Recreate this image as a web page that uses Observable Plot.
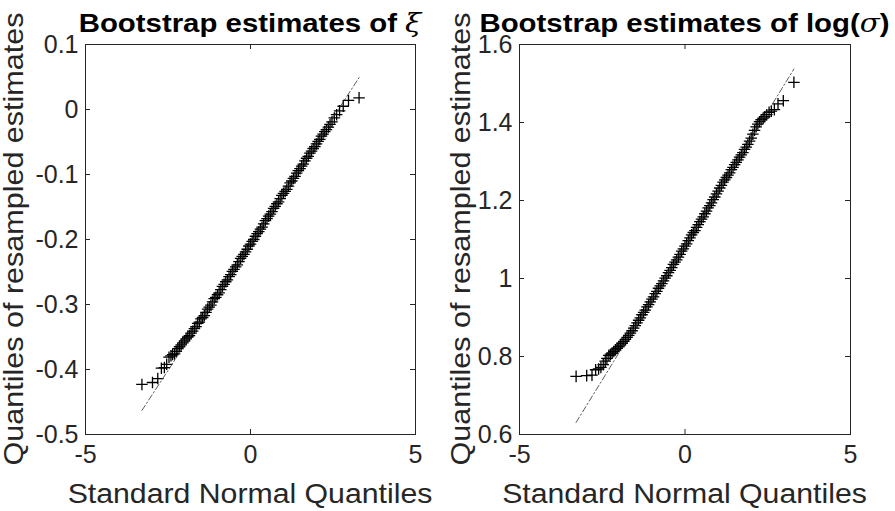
<!DOCTYPE html>
<html><head><meta charset="utf-8">
<script src="https://cdn.jsdelivr.net/npm/d3@7"></script>
<script src="https://cdn.jsdelivr.net/npm/@observablehq/plot@0.6"></script>
<style>
body{margin:0;background:#fff;}
#wrap{display:flex;width:895px;height:511px;overflow:hidden;}
#wrap svg{overflow:visible;display:block;}
</style></head><body><div id="wrap"></div>
<script>
// Theoretical standard normal quantiles (x positions of the plotted points)
const normalQuantiles = [
 -3.29, -2.97, -2.81, -2.70, -2.61, -2.54, -2.47, -2.41, -2.36,
 -2.30, -2.25, -2.20, -2.15, -2.10, -2.05, -2.00, -1.95, -1.90, -1.85,
 -1.80, -1.75, -1.70, -1.65, -1.60, -1.55, -1.50, -1.45, -1.40, -1.35,
 -1.30, -1.25, -1.20, -1.15, -1.10, -1.05, -1.00, -0.95, -0.90, -0.85,
 -0.80, -0.75, -0.70, -0.65, -0.60, -0.55, -0.50, -0.45, -0.40, -0.35,
 -0.30, -0.25, -0.20, -0.15, -0.10, -0.05, 0.00, 0.05, 0.10, 0.15,
 0.20, 0.25, 0.30, 0.35, 0.40, 0.45, 0.50, 0.55, 0.60, 0.65,
 0.70, 0.75, 0.80, 0.85, 0.90, 0.95, 1.00, 1.05, 1.10, 1.15,
 1.20, 1.25, 1.30, 1.35, 1.40, 1.45, 1.50, 1.55, 1.60, 1.65,
 1.70, 1.75, 1.80, 1.85, 1.90, 1.95, 2.00, 2.05, 2.10, 2.15,
 2.20, 2.25, 2.30,
 2.36, 2.41, 2.47, 2.54, 2.61, 2.70, 2.81, 2.97, 3.29
];
// Sorted bootstrap estimates of xi
const xiEstimates = [
 -0.423, -0.420, -0.414, -0.398, -0.397, -0.392, -0.381, -0.379, -0.377,
 -0.376, -0.372, -0.368, -0.365, -0.362, -0.359, -0.356, -0.353, -0.350, -0.348,
 -0.344, -0.341, -0.337, -0.334, -0.329, -0.327, -0.322, -0.320, -0.317, -0.312,
 -0.307, -0.304, -0.301, -0.296, -0.291, -0.289, -0.285, -0.282, -0.277, -0.272,
 -0.269, -0.265, -0.262, -0.257, -0.254, -0.249, -0.246, -0.242, -0.239, -0.234,
 -0.229, -0.226, -0.223, -0.219, -0.215, -0.210, -0.207, -0.203, -0.200, -0.195,
 -0.191, -0.188, -0.184, -0.181, -0.176, -0.171, -0.168, -0.164, -0.161, -0.157,
 -0.152, -0.149, -0.145, -0.142, -0.137, -0.132, -0.129, -0.126, -0.123, -0.118,
 -0.113, -0.110, -0.106, -0.103, -0.098, -0.094, -0.091, -0.087, -0.084, -0.079,
 -0.075, -0.072, -0.067, -0.064, -0.060, -0.057, -0.053, -0.049, -0.046, -0.041,
 -0.038, -0.034, -0.031,
 -0.027, -0.023, -0.019, -0.013, -0.008, -0.002, 0.005, 0.014, 0.018
];
// Sorted bootstrap estimates of log(sigma)
const logSigmaEstimates = [
 0.749, 0.751, 0.752, 0.766, 0.768, 0.772, 0.779, 0.788, 0.795,
 0.803, 0.806, 0.809, 0.813, 0.817, 0.821, 0.825, 0.829, 0.834, 0.839,
 0.844, 0.849, 0.854, 0.860, 0.866, 0.873, 0.879, 0.886, 0.893, 0.899,
 0.907, 0.913, 0.919, 0.927, 0.933, 0.940, 0.947, 0.953, 0.961, 0.967,
 0.975, 0.981, 0.987, 0.994, 1.001, 1.007, 1.015, 1.021, 1.028, 1.036,
 1.042, 1.048, 1.055, 1.062, 1.070, 1.076, 1.083, 1.089, 1.097, 1.104,
 1.112, 1.118, 1.123, 1.131, 1.138, 1.146, 1.152, 1.158, 1.166, 1.173,
 1.181, 1.187, 1.194, 1.202, 1.209, 1.217, 1.224, 1.232, 1.239, 1.247,
 1.253, 1.259, 1.265, 1.271, 1.279, 1.285, 1.292, 1.298, 1.304, 1.311,
 1.317, 1.323, 1.331, 1.337, 1.344, 1.352, 1.360, 1.370, 1.380, 1.389,
 1.396, 1.402, 1.407,
 1.411, 1.415, 1.420, 1.426, 1.429, 1.433, 1.448, 1.456, 1.503
];
// Reference (quartile) line end points
const fitQuantiles = [-3.29, 3.29];
const xiFitValues = [-0.463, 0.049];
const logSigmaFitValues = [0.631, 1.537];

// Axis ticks
const xTicks = [-5, 0, 5];
const xiTicks = [-0.5, -0.4, -0.3, -0.2, -0.1, 0, 0.1];
const logSigmaTicks = [0.6, 0.8, 1, 1.2, 1.4, 1.6];

const xLabel = "Standard Normal Quantiles";
const yLabel = "Quantiles of resampled estimates";

const ink = "#262626";
const H = 511, MT = 44, MB = 77;
const fmt = d => String(+(+d).toFixed(1));

function panel({width, marginLeft, marginRight, values, fitValues, yDomain, yTicks, titleParts}) {
  const data = normalQuantiles.map((q, i) => ({q, v: values[i]}));
  const fit = fitQuantiles.map((q, i) => ({q, v: fitValues[i]}));
  const frameH = H - MT - MB;
  const frameW = width - marginLeft - marginRight;
  const tl = 5;
  const svg = Plot.plot({
    width, height: H, marginLeft, marginRight, marginTop: MT, marginBottom: MB,
    style: {fontFamily: "'Liberation Sans', Arial, sans-serif", fontSize: "25px", color: ink, background: "white", overflow: "visible"},
    x: {domain: [-5, 5], ticks: xTicks, tickFormat: fmt, tickSize: 0, tickPadding: 11, label: null},
    y: {domain: yDomain, ticks: yTicks, tickFormat: fmt, tickSize: 0, tickPadding: 7, label: null},
    marks: [
      Plot.dot(data, {x: "q", y: "v", symbol: "plus", r: 3.8, stroke: "black", strokeWidth: 1.3}),
      Plot.line(fit, {x: "q", y: "v", stroke: "#333", strokeWidth: 0.8, strokeDasharray: "6,2.5,1.5,2.5"}),
      Plot.tickX(xTicks, {x: d => d, insetTop: frameH - tl, stroke: ink}),
      Plot.tickX(xTicks, {x: d => d, insetBottom: frameH - tl, stroke: ink}),
      Plot.tickY(yTicks, {y: d => d, insetRight: frameW - tl, stroke: ink}),
      Plot.tickY(yTicks, {y: d => d, insetLeft: frameW - tl, stroke: ink}),
      Plot.frame({stroke: ink, strokeWidth: 1})
    ]
  });
  const s = d3.select(svg);
  const cx = marginLeft + frameW / 2;
  const t = s.append("text")
    .attr("transform", `translate(${cx},32) scale(1.13,1)`)
    .attr("text-anchor", "middle").attr("font-weight", "bold")
    .attr("font-size", 26).attr("fill", "#000")
    .attr("font-family", "'Liberation Sans', Arial, sans-serif");
  titleParts.forEach(p => {
    const ts = t.append("tspan").text(p.text);
    if (p.math) ts.attr("font-family", "'DejaVu Serif', serif").attr("font-style", "italic").attr("font-weight", "normal");
  });
  s.append("text")
    .attr("transform", `translate(${cx},503) scale(1.1,1)`)
    .attr("text-anchor", "middle").attr("font-size", 27.5).attr("fill", ink)
    .attr("font-family", "'Liberation Sans', Arial, sans-serif")
    .text(xLabel);
  s.append("text")
    .attr("transform", `translate(23,${MT + frameH / 2}) rotate(-90) scale(1.11,1)`)
    .attr("text-anchor", "middle").attr("font-size", 27.5).attr("fill", ink)
    .attr("font-family", "'Liberation Sans', Arial, sans-serif")
    .text(yLabel);
  return svg;
}

const wrap = document.getElementById("wrap");
wrap.appendChild(panel({
  width: 447, marginLeft: 85, marginRight: 32,
  values: xiEstimates, fitValues: xiFitValues,
  yDomain: [-0.5, 0.1], yTicks: xiTicks,
  titleParts: [{text: "Bootstrap estimates of "}, {text: "ξ", math: true}]
}));
wrap.appendChild(panel({
  width: 448, marginLeft: 72, marginRight: 45,
  values: logSigmaEstimates, fitValues: logSigmaFitValues,
  yDomain: [0.6, 1.6], yTicks: logSigmaTicks,
  titleParts: [{text: "Bootstrap estimates of log("}, {text: "σ", math: true}, {text: ")"}]
}));
</script></body></html>
